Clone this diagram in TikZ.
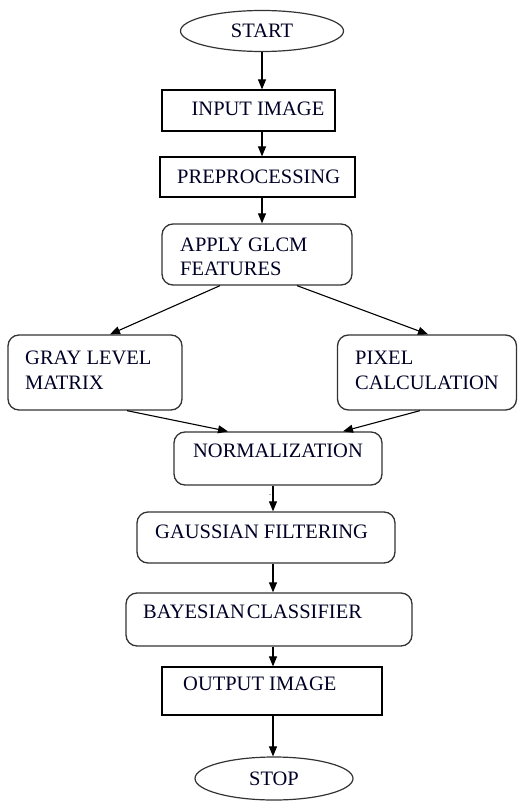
\documentclass[tikz,border=0pt]{standalone}
\usepackage{fontspec}
\setmainfont{Liberation Serif}
\usetikzlibrary{arrows.meta,shapes.geometric}
\begin{document}
\begin{tikzpicture}[x=1pt,y=-1pt,
  lbl/.style={inner sep=0pt,font=\fontsize{20.5}{24}\selectfont,text=black!85!blue},
  sqbox/.style={draw=black,line width=1.2pt,inner sep=0pt,rectangle},
  rbox/.style={draw=black!80,line width=1.3pt,inner sep=0pt,rectangle,rounded corners=11pt},
  term/.style={draw=black!80,line width=1.2pt,ellipse,inner sep=0pt,font=\fontsize{20.5}{24}\selectfont,text=black!85!blue},
  flow/.style={draw=black,line width=1.1pt,-{Triangle[length=10pt,width=8pt]}}]
\useasboundingbox (0,0) rectangle (518,802);
\coordinate (ax) at (273,0);
\coordinate (ay) at (262,0);
% nodes
\node[term,minimum width=163pt,minimum height=41pt] (start) at (262,31) {START};
\node[sqbox,minimum width=173pt,minimum height=41pt] (input) at (248.5,110.5) {};
\node[sqbox,minimum width=195pt,minimum height=40pt] (prep) at (257.5,177) {};
\node[rbox,minimum width=190pt,minimum height=61pt] (glcm) at (257,254.5) {};
\node[rbox,minimum width=174pt,minimum height=75pt] (gray) at (95,372.5) {};
\node[rbox,minimum width=179pt,minimum height=75pt] (pixel) at (427,372.5) {};
\node[rbox,minimum width=208pt,minimum height=53pt] (norm) at (278,458.5) {};
\node[rbox,minimum width=258pt,minimum height=51pt] (gauss) at (266,537.5) {};
\node[rbox,minimum width=286pt,minimum height=53pt] (bayes) at (269,619.5) {};
\node[sqbox,minimum width=220pt,minimum height=48pt] (output) at (272,691) {};
\node[term,minimum width=158pt,minimum height=43pt] (stop) at (274,778.5) {STOP};
% texts
\node[lbl] (tinput) at (258,109) {INPUT IMAGE};
\node[lbl,anchor=west] (tprep) at (177,177) {PREPROCESSING};
\node[lbl,anchor=west] (tglcma) at (180,245) {APPLY GLCM};
\node[lbl,anchor=west] (tglcmb) at (180,269) {FEATURES};
\node[lbl,anchor=west] (tgraya) at (25,358) {GRAY LEVEL};
\node[lbl,anchor=west] (tgrayb) at (25,383) {MATRIX};
\node[lbl,anchor=west] (tpixa) at (355,358) {PIXEL};
\node[lbl,anchor=west] (tpixb) at (355,383) {CALCULATION};
\node[lbl] (tnorm) at (278,451) {NORMALIZATION};
\node[lbl,anchor=west] (tgauss) at (155,532) {GAUSSIAN FILTERING};
\node[lbl,anchor=west] (tbayes) at (143,612) {BAYESIAN\kern2pt CLASSIFIER};
\node[lbl,anchor=west] (toutput) at (183,684) {OUTPUT IMAGE};
\node[inner sep=0pt,font=\fontsize{8}{8}\selectfont,anchor=base] (dot) at (270,495) {.};
% connectors
\draw[flow] (start.south) -- (input.north -| start.south);
\draw[flow] (input.south -| ay) -- (prep.north -| ay);
\draw[flow] (prep.south -| ay) -- (glcm.north -| ay);
\draw[flow] ([xshift=-37pt]glcm.south) -- ([xshift=15pt]gray.north);
\draw[flow] ([xshift=40pt]glcm.south) -- ([xshift=1pt]pixel.north);
\draw[flow] ([xshift=32pt]gray.south) -- ([xshift=-50pt]norm.north);
\draw[flow] ([xshift=-7pt]pixel.south) -- ([xshift=65pt]norm.north);
\draw[flow] (norm.south -| ax) -- (gauss.north -| ax);
\draw[flow] (gauss.south -| ax) -- (bayes.north -| ax);
\draw[flow] (bayes.south -| ax) -- (output.north -| ax);
\draw[flow] (output.south -| ax) -- (stop.north -| ax);
\end{tikzpicture}
\end{document}
